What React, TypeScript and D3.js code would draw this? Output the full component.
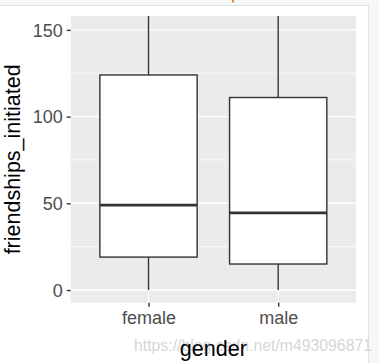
import { useRef, useEffect } from "react";
import * as d3 from "d3";

const genders = ["female", "male"];
const lowerWhisker = [0, 0];
const q1 = [19, 15];
const median = [49, 44.5];
const q3 = [124, 111];
const upperWhisker = [281, 254];
const yTicks = [0, 50, 100, 150];
const yMinorTicks = [25, 75, 125];

const W = 379;
const H = 363;

export default function App() {
  const ref = useRef<SVGSVGElement>(null);

  useEffect(() => {
    if (!ref.current) return;
    const svg = d3.select(ref.current);
    svg.selectAll("*").remove();

    const panel = { left: 70.7, right: 356, top: 16, bottom: 302.7 };

    // page chrome around the plot
    svg.append("rect").attr("width", W).attr("height", H).attr("fill", "#fff");
    svg.append("rect").attr("x", 0).attr("y", 0).attr("width", W).attr("height", 5).attr("fill", "#f5f7f9");
    svg.append("rect").attr("x", 368).attr("y", 0).attr("width", W - 368).attr("height", H).attr("fill", "#f5f7f9");
    svg.append("line").attr("x1", 0).attr("x2", 368).attr("y1", 5.5).attr("y2", 5.5).attr("stroke", "#dde2e6");
    svg.append("line").attr("x1", 368.5).attr("x2", 368.5).attr("y1", 5).attr("y2", H).attr("stroke", "#dde2e6");
    svg.append("rect").attr("x", 232).attr("y", 0).attr("width", 2).attr("height", 2.5).attr("fill", "#e8900c");

    // scales (ggplot discrete expansion: 0.6 each side)
    const xPos = d3.scaleLinear().domain([0.4, 2.6]).range([panel.left, panel.right]);
    const x = (g: string) => xPos(genders.indexOf(g) + 1);
    const boxW = xPos(1.375) - xPos(0.625);
    const y = d3.scaleLinear().domain([-7.3, 158]).range([panel.bottom, panel.top]);

    svg.append("rect")
      .attr("x", panel.left).attr("y", panel.top)
      .attr("width", panel.right - panel.left).attr("height", panel.bottom - panel.top)
      .attr("fill", "#ebebeb");

    const grid = svg.append("g");
    grid.selectAll("line.minor").data(yMinorTicks).join("line")
      .attr("x1", panel.left).attr("x2", panel.right)
      .attr("y1", (d) => y(d)).attr("y2", (d) => y(d))
      .attr("stroke", "#fff").attr("stroke-width", 0.7);
    grid.selectAll("line.major").data(yTicks).join("line")
      .attr("x1", panel.left).attr("x2", panel.right)
      .attr("y1", (d) => y(d)).attr("y2", (d) => y(d))
      .attr("stroke", "#fff").attr("stroke-width", 1.4);
    grid.selectAll("line.vert").data(genders).join("line")
      .attr("x1", (d) => x(d)).attr("x2", (d) => x(d))
      .attr("y1", panel.top).attr("y2", panel.bottom)
      .attr("stroke", "#fff").attr("stroke-width", 1.4);

    svg.append("clipPath").attr("id", "panel-clip").append("rect")
      .attr("x", panel.left).attr("y", panel.top)
      .attr("width", panel.right - panel.left).attr("height", panel.bottom - panel.top);

    const boxes = svg.append("g").attr("clip-path", "url(#panel-clip)")
      .selectAll("g").data(genders).join("g");

    boxes.append("line")
      .attr("x1", (d) => x(d)).attr("x2", (d) => x(d))
      .attr("y1", (_, i) => y(q3[i])).attr("y2", (_, i) => y(upperWhisker[i]))
      .attr("stroke", "#333").attr("stroke-width", 1.4);
    boxes.append("line")
      .attr("x1", (d) => x(d)).attr("x2", (d) => x(d))
      .attr("y1", (_, i) => y(q1[i])).attr("y2", (_, i) => y(lowerWhisker[i]))
      .attr("stroke", "#333").attr("stroke-width", 1.4);
    boxes.append("rect")
      .attr("x", (d) => x(d) - boxW / 2).attr("width", boxW)
      .attr("y", (_, i) => y(q3[i])).attr("height", (_, i) => y(q1[i]) - y(q3[i]))
      .attr("fill", "#fff").attr("stroke", "#333").attr("stroke-width", 1.4);
    boxes.append("line")
      .attr("x1", (d) => x(d) - boxW / 2).attr("x2", (d) => x(d) + boxW / 2)
      .attr("y1", (_, i) => y(median[i])).attr("y2", (_, i) => y(median[i]))
      .attr("stroke", "#333").attr("stroke-width", 2.8);

    // axes
    const yAxis = svg.append("g").attr("transform", `translate(${panel.left},0)`)
      .call(d3.axisLeft(y).tickValues(yTicks).tickSize(4).tickPadding(4));
    const xAxis = svg.append("g").attr("transform", `translate(0,${panel.bottom})`)
      .call(d3.axisBottom(d3.scaleOrdinal<string, number>().domain(genders).range(genders.map((g) => x(g))) as any)
        .tickSize(4).tickPadding(5));
    [yAxis, xAxis].forEach((a) => {
      a.select(".domain").remove();
      a.selectAll(".tick line").attr("stroke", "#333").attr("stroke-width", 1.4);
      a.selectAll(".tick text")
        .attr("fill", "#4d4d4d")
        .style("font-family", "'Liberation Sans', Arial, sans-serif")
        .style("font-size", "18px");
    });
    yAxis.selectAll(".tick text").attr("dy", "0.35em");

    // watermark
    svg.append("text")
      .attr("x", 134).attr("y", 351)
      .attr("fill", "#d6d6d6")
      .style("font-family", "'Liberation Sans', Arial, sans-serif")
      .style("font-size", "15.8px")
      .text("https://blog.csdn.net/m493096871");

    // axis titles
    svg.append("text")
      .attr("x", (panel.left + panel.right) / 2).attr("y", 356)
      .attr("text-anchor", "middle").attr("fill", "#000")
      .style("font-family", "'Liberation Sans', Arial, sans-serif")
      .style("font-size", "21.5px")
      .text("gender");
    svg.append("text")
      .attr("transform", `translate(20,${(panel.top + panel.bottom) / 2}) rotate(-90)`)
      .attr("text-anchor", "middle").attr("fill", "#000")
      .style("font-family", "'Liberation Sans', Arial, sans-serif")
      .style("font-size", "21.5px")
      .text("friendships_initiated");
  }, []);

  return (
    <svg ref={ref} width={W} height={H}
      style={{ position: "absolute", left: 0, top: 0, display: "block" }} />
  );
}
